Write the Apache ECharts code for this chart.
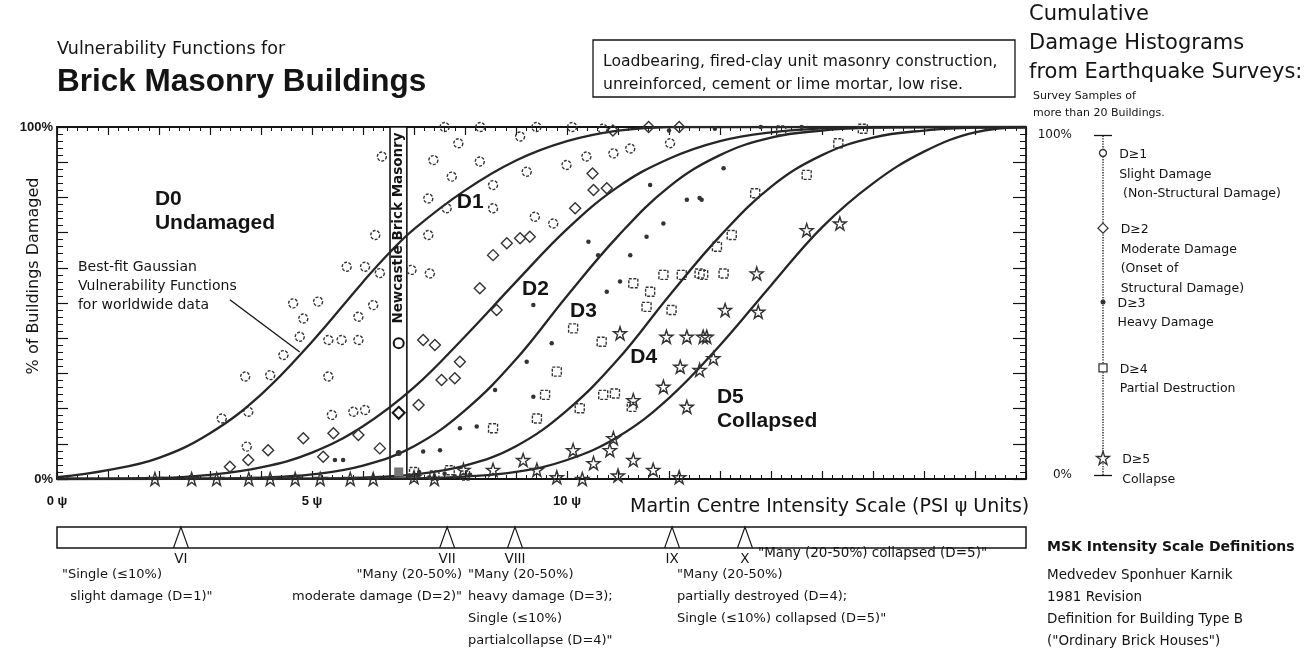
<!DOCTYPE html>
<html><head><meta charset="utf-8">
<script src="https://cdn.jsdelivr.net/npm/echarts@6/dist/echarts.min.js"></script>
<style>html,body{margin:0;padding:0;background:#fff}#c{width:1316px;height:651px}</style>
</head><body><div id="c"></div>
<script>
const FONT = '"Liberation Sans", Arial, Helvetica, sans-serif';
const WIDE = '"DejaVu Sans", Verdana, sans-serif';
const INK = '#141414';
const MK = '#333333';

// ---- axes ----
const psiMin = 0, psiMax = 19;
const psiLabelled = [0, 5, 10];
const pctLabelled = [0, 100];

// ---- best-fit vulnerability curves [psi, % damaged] ----
const curveD1 = [[0,0.5],[1,2.5],[2,6],[3,13],[4,24],[5,39],[6,56],[6.5,64],[7,71],[8,82],[9,90.5],[10,96],[11,99],[12,100],[19,100]];
const curveD2 = [[0,0],[2,0.3],[3,1.2],[4,3.3],[5,7.5],[6,15],[7,26],[8,40.5],[9,56],[10,71],[11,83],[12,91],[13,96],[14,98.5],[15,99.6],[16,100],[19,100]];
const curveD3 = [[0,0],[3,0.1],[4,0.4],[5,1.3],[6,3.8],[7,9.3],[8,19.5],[9,34],[10,52],[11,69],[12,83],[13,92],[14,97],[15,99],[16,99.8],[17,100],[19,100]];
const curveD4 = [[0,0],[5,0.1],[6,0.4],[7,1.3],[8,3.8],[9,9.3],[10,19.5],[11,34],[12,52],[13,69],[14,83],[15,92],[16,97],[17,99],[18,99.8],[19,100]];
const curveD5 = [[0,0],[7,0.2],[8,0.7],[9,2],[10,5.4],[11,12],[12,23],[13,38],[14,55],[15,71.5],[16,84],[17,93],[18,98.5],[19,100]];

// ---- survey samples [psi, % damaged] ----
const samplesD1 = [[6.37,91.6],[6.24,69.3],[5.68,60.3],[6.04,60.3],[6.33,58.5],[4.63,49.9],[5.12,50.4],[4.83,45.6],[5.91,46.1],[6.2,49.4],[4.76,40.4],[4.44,35.2],[3.69,29.1],[4.18,29.5],[5.32,39.5],[5.58,39.5],[5.91,39.5],[5.32,29.1],[3.23,17.2],[3.75,19.1],[5.39,18.2],[5.81,19.1],[6.04,19.6],[3.72,9.2],
  [7.38,90.6],[7.87,95.4],[7.74,85.9],[8.29,90.2],[9.08,97.3],[7.28,79.7],[7.64,76.9],[8.55,83.5],[8.55,76.9],[9.21,87.3],[9.73,72.6],[9.37,74.5],[7.28,69.3],[7.31,58.4],[6.95,59.4],[9.99,89.2],[10.38,91.6],[10.91,92.5],[11.24,93.9],[12.02,95.4],
  [7.6,100],[8.3,100],[9.4,100],[10.1,100],[10.7,99.5]];
const samplesD2 = [[4.83,11.6],[4.14,8.2],[5.22,6.3],[5.42,13.0],[5.91,12.5],[6.33,8.7],[3.39,3.5],[3.75,5.4],
  [7.18,39.5],[7.41,38.1],[7.9,33.3],[7.8,28.6],[7.54,28.1],[8.55,63.6],[8.82,67.0],[9.08,68.4],[9.27,68.8],[10.16,76.9],[10.52,82.1],[10.78,82.6],[7.09,21.0],[8.29,54.2],[8.62,48],[10.5,86.8],
  [10.9,99],[11.6,100],[12.2,100]];
const samplesD3 = [[5.45,5.4],[5.61,5.4],[9.34,49.4],[9.7,38.6],[9.21,33.3],[8.59,25.3],[8.23,14.9],[7.9,14.4],[9.34,23.4],[10.42,67.4],[10.61,63.6],[11.24,63.6],[10.78,53.2],[11.04,56.1],[11.56,68.8],[11.89,72.6],[11.63,83.5],[12.35,79.3],[12.64,79.3],[7.18,7.8],[7.51,8.2],[13.07,88.3],[12.6,79.8],
  [12.0,99],[12.9,99.5],[13.8,100],[14.6,100],[6.9,1],[7.1,2],[7.3,0.5],[7.6,1.5],[7.8,0.8],[8.1,1.2]];
const samplesD4 = [[11.3,55.6],[11.63,53.2],[11.56,48.9],[11.89,58],[12.25,58],[12.67,58],[12.05,48],[10.12,42.8],[10.68,39],[9.8,30.5],[9.57,23.9],[9.41,17.2],[8.55,14.4],[10.94,24.3],[10.71,23.9],[10.25,20.1],[11.27,20.5],[13.69,81.2],[14.7,86.4],[15.32,95.4],[13.23,69.3],[12.6,58.4],[13.07,58.4],[12.94,66],
  [7.0,2],[7.4,1],[7.7,2.5],[8.0,1],[14.2,99],[15.8,99.5]];
const samplesD5 = [[1.92,0],[2.64,0],[3.13,0],[3.76,0],[4.18,0],[4.67,0],[5.16,0],[5.75,0],[6.2,0],[7.0,0.5],[7.4,0],[7.97,2.6],[8.55,2.6],[9.14,5.4],[9.41,2.6],[9.8,0.5],[10.3,0],[10.52,4.5],[11.0,1],[11.69,2.6],[12.2,0.5],
  [11.3,5.4],[10.12,8.2],[10.84,8.2],[10.91,11.6],[11.04,41.4],[11.95,40.4],[12.35,40.4],[12.67,40.4],[12.22,31.9],[11.89,26.2],[12.35,20.5],[11.3,22.4],[12.74,40.4],[13.1,48],[13.75,47.5],[13.72,58.4],[14.7,70.7],[15.35,72.6],[12.87,34.3],[12.6,31]];

// ---- Newcastle brick masonry ----
const newcastleRange = [6.53, 6.86];
const newcastleD1 = [[6.7,38.6]];
const newcastleD2 = [[6.7,18.8]];
const newcastleD3 = [[6.7,7.4]];
const newcastleD4 = [[6.7,2]];

// ---- MSK intensity scale ----
const mskNames = ['VI','VII','VIII','IX','X'];
const mskPsi = [2.43, 7.65, 8.98, 12.06, 13.49];

// ---- legend scale (right) ----
const legendLevels = [94.7, 72.6, 50.9, 31.5, 5];
const legendTexts = ['D≥1\nSlight Damage\n (Non-Structural Damage)','D≥2\nModerate Damage\n(Onset of\nStructural Damage)','D≥3\nHeavy Damage','D≥4\nPartial Destruction','D≥5\nCollapse'];

// ---- annotation anchors (data coords) ----
const curveLabelText = ['D0\nUndamaged','D1','D2','D3','D4','D5\nCollapsed'];
const curveLabelAt = [[1.92,76.1],[7.84,78.7],[9.12,54],[10.06,47.7],[11.24,34.7],[12.94,19.9]];
const bestFitText = 'Best-fit Gaussian\nVulnerability Functions\nfor worldwide data';
const bestFitAt = [0.41, 54.8];
const pointerFrom = [3.39, 50.9], pointerTo = [4.76, 36.1];

const STAR = 'path://M50,2 L62,38 L99,38 L69,60 L80,96 L50,74 L20,96 L31,60 L1,38 L38,38 Z';
const SYMS = ['circle','diamond','circle','rect',STAR];

function curve(d){
  return {type:'line', xAxisIndex:0, yAxisIndex:0, data:d, smooth:0.4, showSymbol:false, z:2,
    lineStyle:{color:'#262626', width:2.3}, silent:true};
}
function samples(d, sym, size, filled, dashed){
  return {type:'scatter', xAxisIndex:0, yAxisIndex:0, data:d, symbol:sym, symbolSize:size, z:3, silent:true,
    itemStyle:{opacity:1, color: filled ? MK : 'rgba(255,255,255,0)', borderColor:MK, borderWidth: filled?0:1.4, borderType: dashed?[3,1.5]:'solid'}};
}
const axisLine = {onZero:false, lineStyle:{color:INK, width:1.8}};

const chart = echarts.init(document.getElementById('c'), null, {renderer:'canvas'});

function txt(x, y, text, size, opts){
  opts = opts || {};
  return {type:'text', x:x, y:y, z:20, silent:true, rotation: opts.rot||0,
    style:{text:text, fill:INK, fontFamily:opts.fam||WIDE, fontSize:size, fontWeight:opts.bold?'bold':'normal',
      align:opts.align||'left', verticalAlign:opts.va||'top', lineHeight:opts.lh||Math.round(size*1.25)}};
}

const option = {
  animation:false,
  backgroundColor:'#fff',
  textStyle:{fontFamily:FONT},
  grid:[
    {left:57, right:290, top:127, bottom:172},
    {left:57, right:290, top:527, height:21, show:true, borderColor:INK, borderWidth:1.5, backgroundColor:'#fff'},
    {left:1091, width:24, top:135, bottom:176}
  ],
  xAxis:[
    {gridIndex:0, type:'value', min:psiMin, max:psiMax, interval:1, position:'bottom', axisLine:axisLine,
      axisTick:{inside:true, length:8, lineStyle:{color:INK, width:1.2}},
      minorTick:{show:true, splitNumber:5, length:4, lineStyle:{color:INK, width:1}},
      splitLine:{show:false},
      axisLabel:{formatter:v=>psiLabelled.includes(v)? v+' ψ':'', fontWeight:'bold', fontSize:13, color:INK, margin:16, fontFamily:FONT}},
    {gridIndex:0, type:'value', min:psiMin, max:psiMax, interval:1, position:'top', axisLine:axisLine,
      axisTick:{inside:true, length:8, lineStyle:{color:INK, width:1.2}},
      minorTick:{show:true, splitNumber:5, length:4, lineStyle:{color:INK, width:1}},
      splitLine:{show:false}, axisLabel:{show:false}},
    {gridIndex:1, type:'value', min:psiMin, max:psiMax, show:false},
    {gridIndex:2, type:'value', min:-1, max:1, show:false}
  ],
  yAxis:[
    {gridIndex:0, type:'value', min:0, max:100, interval:10, position:'left', axisLine:axisLine,
      axisTick:{inside:true, length:11, lineStyle:{color:INK, width:1.2}},
      minorTick:{show:true, splitNumber:5, length:6, lineStyle:{color:INK, width:1}},
      splitLine:{show:false},
      axisLabel:{formatter:v=>pctLabelled.includes(v)? v+'%':'', fontWeight:'bold', fontSize:13, color:INK, margin:4, fontFamily:FONT}},
    {gridIndex:0, type:'value', min:0, max:100, interval:10, position:'right', axisLine:axisLine,
      axisTick:{inside:true, length:13, lineStyle:{color:INK, width:1.2}},
      minorTick:{show:true, splitNumber:5, length:6, lineStyle:{color:INK, width:1}},
      splitLine:{show:false}, axisLabel:{show:false}},
    {gridIndex:1, type:'value', min:0, max:1, show:false},
    {gridIndex:2, type:'value', min:0, max:100, interval:100, position:'left',
      axisLine:{show:false}, axisTick:{show:false}, splitLine:{show:false},
      axisLabel:{formatter:'{value}%', fontSize:12, color:INK, margin:19, fontFamily:WIDE}}
  ],
  series:[
    curve(curveD1), curve(curveD2), curve(curveD3), curve(curveD4), curve(curveD5),
    samples(samplesD1, 'circle', 9, false, true),
    samples(samplesD2, 'diamond', 11, false, false),
    samples(samplesD3, 'circle', 4.5, true, false),
    samples(samplesD4, 'rect', 9, false, true),
    samples(samplesD5, STAR, 13, false, false),
    // Newcastle band
    {type:'line', xAxisIndex:0, yAxisIndex:0, data:[], z:5, silent:true,
      markArea:{silent:true, itemStyle:{color:'#fff', borderColor:INK, borderWidth:1.6},
        data:[[{xAxis:newcastleRange[0], yAxis:0},{xAxis:newcastleRange[1], yAxis:100}]]}},
    {type:'scatter', xAxisIndex:0, yAxisIndex:0, z:6, silent:true, symbolSize:0, itemStyle:{opacity:1},
      data:[[ (newcastleRange[0]+newcastleRange[1])/2, 71.3 ]],
      label:{show:true, formatter:'Newcastle Brick Masonry', rotate:90, position:'inside', fontSize:13.5, fontWeight:'bold', color:INK, fontFamily:WIDE}},
    Object.assign(samples(newcastleD1,'circle',10,false,false),{z:7, itemStyle:{opacity:1,color:'#fff',borderColor:INK,borderWidth:2}}),
    Object.assign(samples(newcastleD2,'diamond',12,false,false),{z:7, itemStyle:{opacity:1,color:'#fff',borderColor:INK,borderWidth:2}}),
    Object.assign(samples(newcastleD3,'circle',6,true,false),{z:7}),
    Object.assign(samples(newcastleD4,'rect',9,true,false),{z:7, itemStyle:{opacity:1,color:'#777'}}),
    // curve annotations + pointer
    {type:'scatter', xAxisIndex:0, yAxisIndex:0, z:8, silent:true, symbolSize:0, itemStyle:{opacity:1},
      data:curveLabelAt.map((p,i)=>({value:p, name:curveLabelText[i]})),
      label:{show:true, position:'right', distance:0, formatter:'{b}', fontSize:21, fontWeight:'bold', color:INK, lineHeight:24, fontFamily:FONT},
      markLine:{silent:true, symbol:['none','none'], label:{show:false}, lineStyle:{color:INK, width:1.3, type:'solid'},
        data:[[{coord:pointerFrom},{coord:pointerTo}]]}},
    {type:'scatter', xAxisIndex:0, yAxisIndex:0, z:8, silent:true, symbolSize:0, itemStyle:{opacity:1},
      data:[{value:bestFitAt, name:bestFitText}],
      label:{show:true, position:'right', distance:0, formatter:'{b}', fontSize:14, color:INK, lineHeight:19, fontFamily:WIDE}},
    // MSK bar triangles
    {type:'scatter', xAxisIndex:2, yAxisIndex:2, z:5, silent:true,
      data:mskPsi.map((p,i)=>({value:[p,0.5], name:mskNames[i]})),
      symbol:'path://M0,21 L7,0 L14,21', symbolSize:[15,21], symbolKeepAspect:false,
      itemStyle:{opacity:1, color:'rgba(255,255,255,0)', borderColor:INK, borderWidth:1.4},
      label:{show:true, position:'bottom', distance:4, formatter:'{b}', fontSize:13.5, color:INK, fontFamily:WIDE}},
    // legend scale
    {type:'line', xAxisIndex:3, yAxisIndex:3, z:4, silent:true, data:[[0,0],[0,100]], showSymbol:false,
      lineStyle:{color:INK, width:1.3, type:'dotted'},
      markLine:{silent:true, symbol:['none','none'], label:{show:false}, lineStyle:{color:INK, width:1.3, type:'solid'},
        data:[[{coord:[-0.75,100]},{coord:[0.75,100]}],[{coord:[-0.75,0]},{coord:[0.75,0]}]]}},
    {type:'scatter', xAxisIndex:3, yAxisIndex:3, z:6, silent:true,
      data:legendLevels.map((v,i)=>({value:[0,v], name:legendTexts[i], symbol:SYMS[i],
        symbolSize:[7,10,5,8,13][i],
        itemStyle:{opacity:1, color: i===2? MK : '#fff', borderColor:MK, borderWidth: i===2?0:1.3}})),
      label:{show:true, position:'right', distance:12, verticalAlign:'top', offset:[0,-8], formatter:'{b}', fontSize:12.5, lineHeight:19.5, color:INK, fontFamily:WIDE}}
  ],
  graphic:[
    txt(57, 37, 'Vulnerability Functions for', 17.5, {lh:24}),
    txt(57, 63, 'Brick Masonry Buildings', 31.5, {bold:true, lh:38, fam:FONT}),
    {type:'rect', z:19, silent:true, shape:{x:593, y:40, width:422, height:57}, style:{fill:'#fff', stroke:INK, lineWidth:1.3}},
    txt(603, 50, 'Loadbearing, fired-clay unit masonry construction,\nunreinforced, cement or lime mortar, low rise.', 15.6, {lh:23}),
    txt(1029, 0, 'Cumulative\nDamage Histograms\nfrom Earthquake Surveys:', 21, {lh:29}),
    txt(1033, 88, 'Survey Samples of\nmore than 20 Buildings.', 11, {lh:17}),
    txt(34, 276, '% of Buildings Damaged', 16, {rot:Math.PI/2, align:'center', va:'middle'}),
    txt(630, 495, 'Martin Centre Intensity Scale (PSI ψ Units)', 19),
    txt(62, 564, '"Single (≤10%)\n  slight damage (D=1)"', 13, {lh:22}),
    txt(462, 564, '"Many (20-50%)\nmoderate damage (D=2)"', 13, {lh:22, align:'right'}),
    txt(468, 564, '"Many (20-50%)\nheavy damage (D=3);\nSingle (≤10%)\npartialcollapse (D=4)"', 13, {lh:22}),
    txt(677, 564, '"Many (20-50%)\npartially destroyed (D=4);\nSingle (≤10%) collapsed (D=5)"', 13, {lh:22}),
    txt(758, 553, '"Many (20-50%) collapsed (D=5)"', 13.5, {va:'middle'}),
    txt(1047, 547, 'MSK Intensity Scale Definitions', 14, {bold:true, va:'middle'}),
    txt(1047, 564, 'Medvedev Sponhuer Karnik\n1981 Revision\nDefinition for Building Type B\n("Ordinary Brick Houses")', 13.5, {lh:22})
  ]
};
chart.setOption(option);
</script></body></html>
